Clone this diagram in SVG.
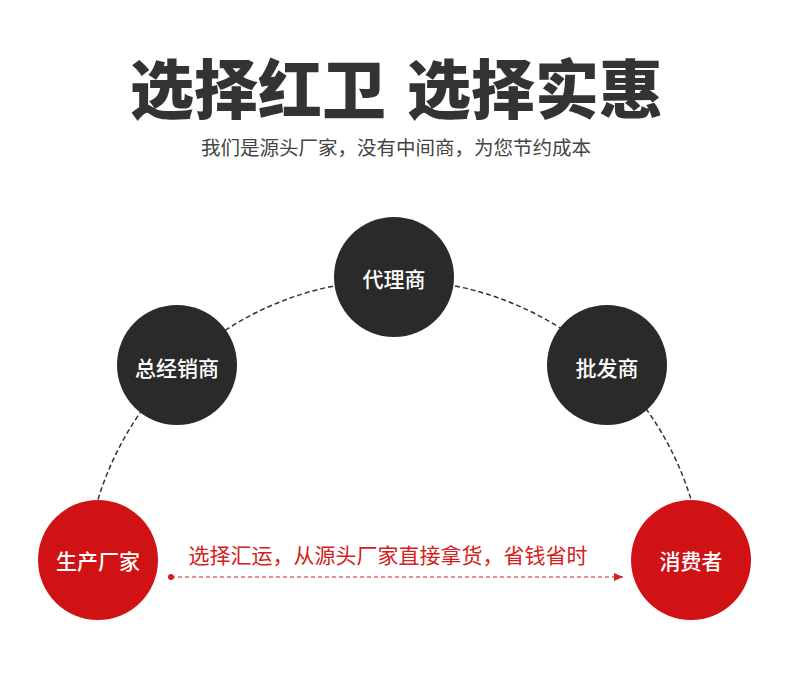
<svg xmlns="http://www.w3.org/2000/svg" width="790" height="698" viewBox="0 0 790 698">
<style>
.title{font-family:"Noto Sans CJK SC","Noto Sans",sans-serif;font-size:64px;font-weight:900;fill:#333333;text-anchor:middle}
.sub{font-family:"Noto Sans CJK SC","Noto Sans",sans-serif;font-size:19.5px;font-weight:400;fill:#444444;text-anchor:middle}
.lbl{font-family:"Noto Sans CJK SC","Noto Sans",sans-serif;font-size:21px;font-weight:500;fill:#ffffff;text-anchor:middle;dominant-baseline:central}
.dark{fill:#2a2a2a}
.red{fill:#d01214}
.arc{fill:none;stroke:#333333;stroke-width:1.5;stroke-dasharray:5 3}
.flow{fill:none;stroke:#d42020;stroke-width:1.2;stroke-dasharray:4 3}
.flowtxt{font-family:"Noto Sans CJK SC","Noto Sans",sans-serif;font-size:21px;fill:#d42020;text-anchor:middle;dominant-baseline:central}
</style>
<defs>
<marker id="ah" viewBox="0 0 10 10" refX="10" refY="5" markerWidth="9" markerHeight="9" markerUnits="userSpaceOnUse" orient="auto">
<path d="M0,0.5 L10,5 L0,9.5 Z" fill="#d42020"/>
</marker>
</defs>
<rect width="790" height="698" fill="#ffffff"/>
<text class="title" x="258" y="113">选择红卫</text>
<text class="title" x="535" y="113">选择实惠</text>
<text class="sub" x="396" y="155">我们是源头厂家，没有中间商，为您节约成本</text>
<g id="connectors">
<path class="arc" d="M98,499.5 A310,310 0 0 1 691,499.5"/>
<circle cx="171" cy="577" r="3" fill="#d42020"/>
<path class="flow" d="M171,577 L623,577" marker-end="url(#ah)"/>
<text class="flowtxt" x="388" y="554">选择汇运，从源头厂家直接拿货，省钱省时</text>
</g>
<g id="node-daili">
<circle class="dark" cx="394" cy="277" r="60"/>
<text class="lbl" x="394" y="278">代理商</text>
</g>
<g id="node-zongjingxiao">
<circle class="dark" cx="177" cy="365" r="60"/>
<text class="lbl" x="177" y="367">总经销商</text>
</g>
<g id="node-pifa">
<circle class="dark" cx="607" cy="365" r="60"/>
<text class="lbl" x="607" y="367">批发商</text>
</g>
<g id="node-shengchan">
<circle class="red" cx="98" cy="560" r="60"/>
<text class="lbl" x="98" y="560">生产厂家</text>
</g>
<g id="node-xiaofei">
<circle class="red" cx="691" cy="560" r="60"/>
<text class="lbl" x="691" y="560">消费者</text>
</g>
</svg>
